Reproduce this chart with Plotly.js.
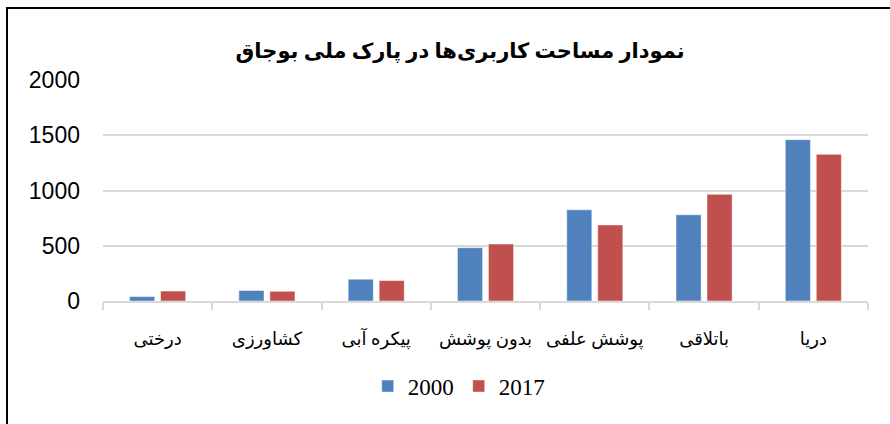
<!DOCTYPE html>
<html>
<head>
<meta charset="utf-8">
<script src="https://cdn.plot.ly/plotly-3.0.1.min.js"></script>
<style>
html,body{margin:0;padding:0;background:#fff;}
#wrap{position:relative;width:890px;height:424px;}
#chart{width:890px;height:424px;}
#frame{position:absolute;left:6px;top:7px;width:884px;height:417px;border-left:2px solid #000;border-top:2px solid #000;box-sizing:border-box;pointer-events:none;}
</style>
</head>
<body>
<div id="wrap"><div id="chart"></div><div id="frame"></div></div>
<script>
const categories = ["درختی", "کشاورزی", "پیکره آبی", "بدون پوشش", "پوشش علفی", "باتلاقی", "دریا"];
const seriesNames = ["2000", "2017"];
const values2000 = [40, 95, 197, 482, 825, 780, 1460];
const values2017 = [90, 88, 185, 515, 688, 965, 1327];
const titleText = "نمودار مساحت کاربری‌ها در پارک ملی بوجاق";
const yTicks = [0, 500, 1000, 1500, 2000];

const serif = "Liberation Serif, DejaVu Sans, serif";
const traces = [
  {type: "bar", name: seriesNames[0], x: categories, y: values2000,
   marker: {color: "#4F81BD", line: {color: "rgba(255,255,255,0.45)", width: 1}}},
  {type: "bar", name: seriesNames[1], x: categories, y: values2017,
   marker: {color: "#C0504D", line: {color: "rgba(255,255,255,0.45)", width: 1}}}
];
const layout = {
  width: 890, height: 424,
  margin: {l: 103, r: 22, t: 80, b: 123},
  paper_bgcolor: "#fff", plot_bgcolor: "#fff",
  barmode: "group", bargap: 0.433, bargroupgap: 0.19,
  title: {text: "<b>" + titleText + "</b>", x: 0.517, xanchor: "center", y: 0.88, yanchor: "middle",
          font: {family: serif, size: 21, color: "#000"}},
  xaxis: {type: "category", showline: true, linecolor: "#D9D9D9", linewidth: 2,
          ticks: "outside", tickson: "boundaries", ticklen: 7, tickcolor: "#D9D9D9", tickwidth: 2,
          ticklabelstandoff: 20, tickangle: 0,
          tickfont: {family: serif, size: 18, color: "#000"}, showgrid: false, fixedrange: true},
  yaxis: {range: [0, 2000], tickvals: yTicks, ticktext: yTicks.map(String),
          showgrid: true, gridcolor: "#D9D9D9", gridwidth: 2, zeroline: false, showline: false,
          ticklabelstandoff: 22,
          tickfont: {family: "Liberation Sans, Arial, sans-serif", size: 23, color: "#000"}, fixedrange: true},
  showlegend: true,
  legend: {orientation: "h", x: 0.465, xanchor: "center", y: -0.385, yanchor: "middle",
           font: {family: "Liberation Serif, serif", size: 23, color: "#000"}, itemwidth: 30, traceorder: "normal"}
};
Plotly.newPlot("chart", traces, layout, {displayModeBar: false, staticPlot: true});
</script>
</body>
</html>
